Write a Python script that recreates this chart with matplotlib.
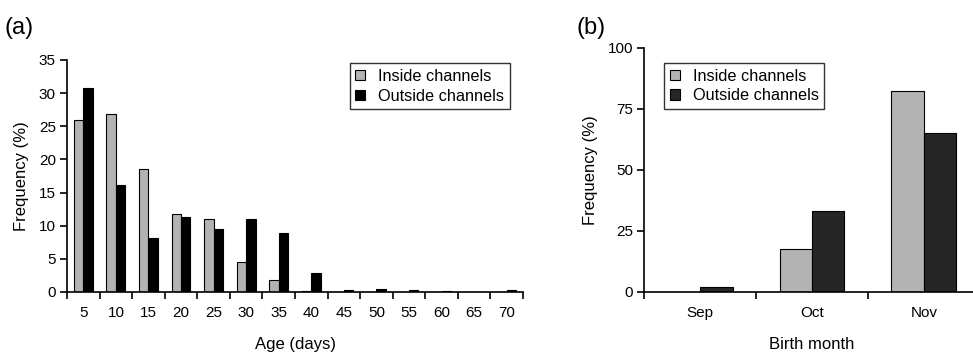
import matplotlib
matplotlib.use("Agg")
import matplotlib.pyplot as plt
import numpy as np
from matplotlib.patches import Patch

plt.rcParams['font.family'] = ['Liberation Sans', 'DejaVu Sans']

# panel (a): age distribution
ages = ['5', '10', '15', '20', '25', '30', '35', '40', '45', '50', '55', '60', '65', '70']
age_inside = [26.0, 26.8, 18.5, 11.8, 11.0, 4.5, 1.8, 0.1, 0, 0, 0, 0, 0, 0]
age_outside = [30.8, 16.1, 8.1, 11.3, 9.5, 11.0, 8.9, 2.8, 0.3, 0.5, 0.3, 0.1, 0, 0.3]

# panel (b): birth month
months = ['Sep', 'Oct', 'Nov']
month_inside = [0, 17.5, 82.5]
month_outside = [2.0, 33.3, 65.0]

gray = '#b3b3b3'
fs = 11

fig = plt.figure(figsize=(9.73, 3.55), dpi=100)
ax1 = fig.add_axes([0.0689, 0.1775, 0.4686, 0.6535])
ax2 = fig.add_axes([0.662, 0.1775, 0.345, 0.6875])


def draw(ax, cats, inside, outside, dark, ymax, ystep, xlabel, legend_loc):
    x = np.arange(len(cats))
    w = 0.29
    ax.bar(x - w / 2, inside, w, color=gray, edgecolor='black', linewidth=0.8, zorder=2)
    ax.bar(x + w / 2, outside, w, color=dark, edgecolor='black', linewidth=0.8, zorder=2)
    ax.set_xlim(-0.5, len(cats) - 0.5)
    ax.set_ylim(0, ymax)
    ax.set_yticks(np.arange(0, ymax + 1, ystep))
    ax.set_xticks(np.arange(len(cats) + 1) - 0.5)
    ax.set_xticklabels([])
    ax.set_xticks(x, minor=True)
    ax.set_xticklabels(cats, minor=True, fontsize=fs)
    ax.tick_params(axis='x', which='major', direction='out', length=5, width=1.2)
    ax.tick_params(axis='x', which='minor', length=0, pad=10)
    ax.tick_params(axis='y', direction='out', length=5, width=1.2, labelsize=fs, pad=3)
    for s in ['top', 'right']:
        ax.spines[s].set_visible(False)
    for s in ['left', 'bottom']:
        ax.spines[s].set_linewidth(1.2)
    ax.set_ylabel('Frequency (%)', fontsize=12, labelpad=7)
    ax.set_xlabel(xlabel, fontsize=12, labelpad=12)
    handles = [Patch(facecolor=gray, edgecolor='black', linewidth=0.8),
               Patch(facecolor=dark, edgecolor='black', linewidth=0.8)]
    leg = ax.legend(handles, ['Inside channels', 'Outside channels'], fontsize=11.7,
                    loc='upper left', bbox_to_anchor=legend_loc, frameon=True, fancybox=False,
                    handlelength=0.6, handleheight=0.6, handletextpad=0.8,
                    borderpad=0.35, labelspacing=0.3, borderaxespad=0)
    leg.get_frame().set_edgecolor('black')
    leg.get_frame().set_linewidth(1.0)


draw(ax1, ages, age_inside, age_outside, 'black', 35, 5, 'Age (days)', (0.62, 0.987))
draw(ax2, months, month_inside, month_outside, '#262626', 100, 25, 'Birth month', (0.06, 0.939))

fig.text(0.005, 0.905, '(a)', fontsize=17)
fig.text(0.593, 0.905, '(b)', fontsize=17)

fig.savefig('out.png', dpi=100)
